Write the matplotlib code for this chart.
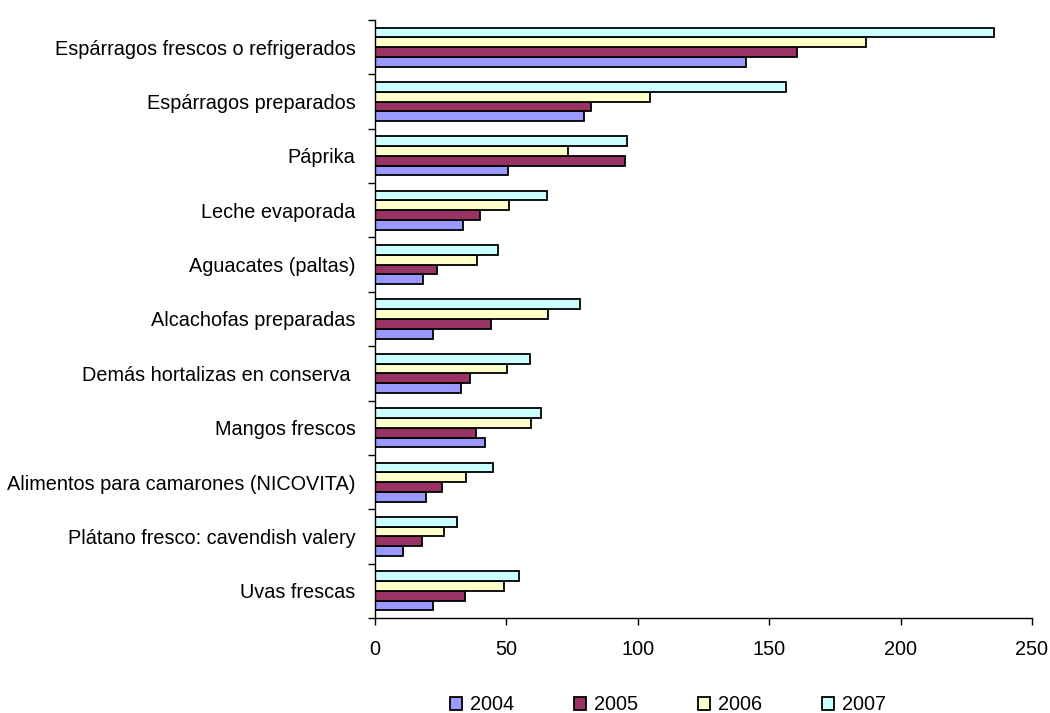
import numpy as np
import matplotlib.pyplot as plt
from matplotlib.ticker import FixedLocator

plt.rcParams["font.family"] = ["Liberation Sans", "DejaVu Sans"]

categories = [
    "Espárragos frescos o refrigerados",
    "Espárragos preparados",
    "Páprika",
    "Leche evaporada",
    "Aguacates (paltas)",
    "Alcachofas preparadas",
    "Demás hortalizas en conserva ",
    "Mangos frescos",
    "Alimentos para camarones (NICOVITA)",
    "Plátano fresco: cavendish valery",
    "Uvas frescas",
]

years = ["2004", "2005", "2006", "2007"]
v2004 = [141.2, 79.5, 50.7, 33.3, 18.4, 22.0, 32.6, 41.9, 19.3, 10.7, 22.0]
v2005 = [160.4, 82.3, 95.2, 39.9, 23.5, 44.0, 36.2, 38.3, 25.5, 17.8, 34.1]
v2006 = [186.7, 104.5, 73.3, 51.1, 38.9, 65.9, 50.3, 59.5, 34.8, 26.3, 48.9]
v2007 = [235.5, 156.3, 96.0, 65.4, 46.8, 78.0, 59.0, 63.0, 44.8, 31.2, 54.8]

colors = ["#9999FF", "#993366", "#FFFFCC", "#CCFFFF"]

fig = plt.figure(figsize=(10.5, 7.13), dpi=100)
ax = fig.add_axes([375 / 1050, 1 - 618 / 713, 657 / 1050, 598 / 713])

n = len(categories)
ypos = np.arange(n)[::-1]
bar_h = 0.18
series = [v2004, v2005, v2006, v2007]
for i, (vals, col, yr) in enumerate(zip(series, colors, years)):
    offset = (i - 1.5) * bar_h
    ax.barh(ypos + offset, vals, height=bar_h, color=col, edgecolor="black",
            linewidth=1.3, label=yr)

ax.set_xlim(0, 250)
ax.set_ylim(-0.5, n - 0.5)
ax.set_xticks([0, 50, 100, 150, 200, 250])
ax.set_yticks(ypos)
ax.set_yticklabels(categories, fontsize=14.3)
ax.yaxis.set_minor_locator(FixedLocator(np.arange(n + 1) - 0.5))
ax.tick_params(axis="y", which="major", length=0, pad=14)
ax.tick_params(axis="y", which="minor", length=5, width=1)
ax.tick_params(axis="x", length=5, width=1, labelsize=14.3, pad=11)

for side in ["top", "right"]:
    ax.spines[side].set_visible(False)
ax.spines["left"].set_linewidth(1)
ax.spines["bottom"].set_linewidth(1)

fig.legend(loc="center", bbox_to_anchor=(668 / 1050, 1 - 705 / 713), ncol=4,
           frameon=False, fontsize=14.3, handlelength=0.62, handleheight=0.62,
           handletextpad=0.4, columnspacing=3.0, borderpad=0)

fig.savefig("out.png", dpi=100)
